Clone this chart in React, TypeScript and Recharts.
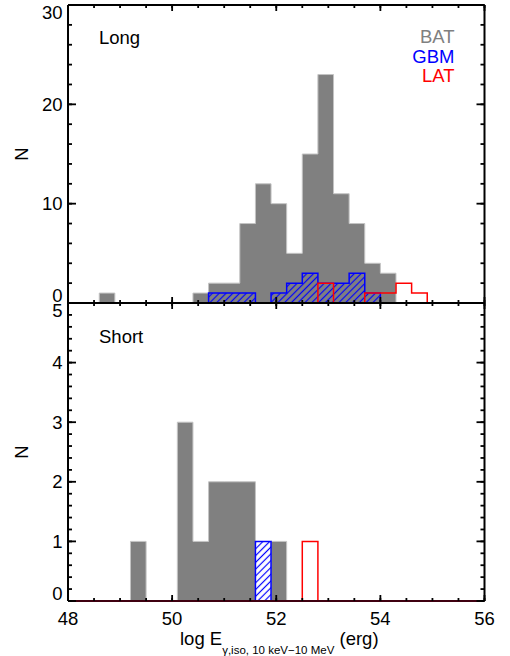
import React from 'react';
import { ComposedChart, Area, Line, XAxis, YAxis } from 'recharts';

const FONT = '"Liberation Sans", Arial, Helvetica, sans-serif';
const FS = 18.5;
const BAT_GRAY = '#808080';
const BAT_EDGE = '#c4c4c4';
const GBM_BLUE = '#0000ff';
const LAT_RED = '#ff0000';

// lower edge of each 0.3 dex bin in log E
const binStarts = [48.0, 48.3, 48.6, 48.9, 49.2, 49.5, 49.8, 50.1, 50.4, 50.7, 51.0, 51.3, 51.6,
  51.9, 52.2, 52.5, 52.8, 53.1, 53.4, 53.7, 54.0, 54.3, 54.6, 54.9, 55.2];

// counts per bin, long GRBs
const longBat = [0, 0, 1, 0, 0, 0, 0, 0, 1, 2, 2, 8, 12, 10, 5, 15, 23, 11, 8, 4, 3, 0, 0, 0, 0];
const longGbm = [0, 0, 0, 0, 0, 0, 0, 0, 0, 1, 1, 1, 0, 1, 2, 3, 2, 2, 3, 1, 0, 0, 0, 0, 0];
const longLat = [0, 0, 0, 0, 0, 0, 0, 0, 0, 0, 0, 0, 0, 0, 0, 0, 2, 0, 0, 1, 1, 2, 1, 0, 0];

// counts per bin, short GRBs
const shortBat = [0, 0, 0, 0, 1, 0, 0, 3, 1, 2, 2, 2, 0, 1, 0, 0, 0, 0, 0, 0, 0, 0, 0, 0, 0];
const shortGbm = [0, 0, 0, 0, 0, 0, 0, 0, 0, 0, 0, 0, 1, 0, 0, 0, 0, 0, 0, 0, 0, 0, 0, 0, 0];
const shortLat = [0, 0, 0, 0, 0, 0, 0, 0, 0, 0, 0, 0, 0, 0, 0, 1, 0, 0, 0, 0, 0, 0, 0, 0, 0];

const xMajor = [48, 50, 52, 54, 56];
const xMinor = [48, 48.5, 49, 49.5, 50, 50.5, 51, 51.5, 52, 52.5, 53, 53.5, 54, 54.5, 55, 55.5, 56];
const longYMajor = [0, 10, 20, 30];
const longYMinor = [0, 2, 4, 6, 8, 10, 12, 14, 16, 18, 20, 22, 24, 26, 28, 30];
const shortYMajor = [0, 1, 2, 3, 4, 5];
const shortYMinor = [0, 0.2, 0.4, 0.6, 0.8, 1, 1.2, 1.4, 1.6, 1.8, 2, 2.2, 2.4, 2.6, 2.8, 3,
  3.2, 3.4, 3.6, 3.8, 4, 4.2, 4.4, 4.6, 4.8, 5];

const W = 510;
const H = 656;
const LEFT = 68;
const RIGHT = 25.5;
const TOP_Y = 5;
const MID_Y = 303;
const BOT_Y = 601;
const THIN = 0.01; // axes need a non-zero size to be drawn

function YTick(props: any) {
  const { x, y, payload, lo, hi } = props;
  const v = payload.value;
  const shift = v === hi ? 7.5 : v === lo ? -7.5 : 0;
  return (
    <text x={x} y={y + shift} dy="0.36em" textAnchor="end" fontSize={FS} fontFamily={FONT} fill="#000">
      {v}
    </text>
  );
}

function XTick(props: any) {
  const { x, y, payload } = props;
  return (
    <text x={x} y={y} dy="0.71em" textAnchor="middle" fontSize={FS} fontFamily={FONT} fill="#000">
      {payload.value}
    </text>
  );
}

// tick marks only, no label
const NoLabel = () => <g />;

type PanelProps = {
  bat: number[];
  gbm: number[];
  lat: number[];
  yMax: number;
  yMajor: number[];
  yMinor: number[];
  top: number;
  bottom: number;
  hatchId: string;
  baseColor: string;
  xLabels: boolean;
};

function Panel({ bat, gbm, lat, yMax, yMajor, yMinor, top, bottom, hatchId, baseColor, xLabels }: PanelProps) {
  const rows = binStarts.map((x, i) => ({ x, bat: bat[i], gbm: gbm[i], lat: lat[i] }));
  const tl = { stroke: '#000', strokeWidth: 1.8 };
  const xCommon = { dataKey: 'x', type: 'number' as const, domain: [48, 56], allowDataOverflow: true, height: THIN, interval: 0 as const };
  const yCommon = { type: 'number' as const, domain: [0, yMax], allowDataOverflow: true, width: THIN, interval: 0 as const };
  return (
    <div style={{ position: 'absolute', left: 0, top: 0 }}>
      <ComposedChart width={W} height={H} data={rows}
        margin={{ top, right: RIGHT, bottom: H - bottom, left: LEFT }}>
        <defs>
          <pattern id={hatchId} patternUnits="userSpaceOnUse" width={4.8} height={4.8} patternTransform="rotate(45)">
            <line x1={2.4} y1={0} x2={2.4} y2={4.8} stroke={GBM_BLUE} strokeWidth={1.2} />
          </pattern>
        </defs>
        <Area xAxisId="xb" yAxisId="yl" type="stepAfter" dataKey="bat" fill={BAT_GRAY} fillOpacity={1}
          stroke={BAT_EDGE} strokeWidth={1} dot={false} activeDot={false} isAnimationActive={false} />
        <Area xAxisId="xb" yAxisId="yl" type="stepAfter" dataKey="gbm" fill={`url(#${hatchId})`} fillOpacity={1}
          stroke={GBM_BLUE} strokeWidth={1.5} dot={false} activeDot={false} isAnimationActive={false} />
        <Line xAxisId="xb" yAxisId="yl" type="stepAfter" dataKey="lat" stroke={LAT_RED} strokeWidth={1.5}
          dot={false} activeDot={false} isAnimationActive={false} />

        <XAxis xAxisId="xb" orientation="bottom" {...xCommon} ticks={xMajor} mirror tickSize={6}
          tick={NoLabel} axisLine={{ stroke: baseColor, strokeWidth: 2 }} tickLine={tl} />
        <XAxis xAxisId="xbm" orientation="bottom" {...xCommon} ticks={xMinor} mirror tickSize={3}
          tick={NoLabel} axisLine={false} tickLine={tl} />
        <XAxis xAxisId="xt" orientation="top" {...xCommon} ticks={xMajor} mirror tickSize={6}
          tick={NoLabel} axisLine={{ stroke: '#000', strokeWidth: 2 }} tickLine={tl} />
        <XAxis xAxisId="xtm" orientation="top" {...xCommon} ticks={xMinor} mirror tickSize={3}
          tick={NoLabel} axisLine={false} tickLine={tl} />
        {xLabels && (
          <XAxis xAxisId="xlab" orientation="bottom" {...xCommon} ticks={xMajor} tickSize={0} tickMargin={11}
            tick={(p: any) => <XTick {...p} />} axisLine={false} tickLine={false} />
        )}

        <YAxis yAxisId="yl" orientation="left" {...yCommon} ticks={yMajor} mirror tickSize={8}
          tick={NoLabel} axisLine={{ stroke: '#000', strokeWidth: 2 }} tickLine={tl} />
        <YAxis yAxisId="ylm" orientation="left" {...yCommon} ticks={yMinor} mirror tickSize={4}
          tick={NoLabel} axisLine={false} tickLine={tl} />
        <YAxis yAxisId="yr" orientation="right" {...yCommon} ticks={yMajor} mirror tickSize={8}
          tick={NoLabel} axisLine={{ stroke: '#000', strokeWidth: 2 }} tickLine={tl} />
        <YAxis yAxisId="yrm" orientation="right" {...yCommon} ticks={yMinor} mirror tickSize={4}
          tick={NoLabel} axisLine={false} tickLine={tl} />
        <YAxis yAxisId="ylab" orientation="left" {...yCommon} ticks={yMajor} tickSize={0} tickMargin={5.5}
          tick={(p: any) => <YTick {...p} lo={0} hi={yMax} />} axisLine={false} tickLine={false} />
      </ComposedChart>
    </div>
  );
}

export default function App() {
  const txt = { fontFamily: FONT, fontSize: FS };
  return (
    <div style={{ position: 'relative', width: W, height: H, background: '#fff' }}>
      <style>{'body{margin:0}'}</style>
      <Panel bat={longBat} gbm={longGbm} lat={longLat} yMax={30} yMajor={longYMajor} yMinor={longYMinor}
        top={TOP_Y} bottom={MID_Y} hatchId="hatchLong" baseColor="#000" xLabels={false} />
      <Panel bat={shortBat} gbm={shortGbm} lat={shortLat} yMax={5} yMajor={shortYMajor} yMinor={shortYMinor}
        top={MID_Y} bottom={BOT_Y} hatchId="hatchShort" baseColor="#3f0010" xLabels={true} />
      <svg width={W} height={H} style={{ position: 'absolute', left: 0, top: 0, pointerEvents: 'none' }}>
        <text x={99} y={44} {...txt} fill="#000">Long</text>
        <text x={99} y={342.7} {...txt} fill="#000">Short</text>
        <text x={454.5} y={43.3} {...txt} textAnchor="end" fill={BAT_GRAY}>BAT</text>
        <text x={454.5} y={62.7} {...txt} textAnchor="end" fill={GBM_BLUE}>GBM</text>
        <text x={454.5} y={81.7} {...txt} textAnchor="end" fill={LAT_RED}>LAT</text>
        <text x={21} y={154} dy="0.36em" {...txt} textAnchor="middle" transform="rotate(-90 21 154)">N</text>
        <text x={21} y={452} dy="0.36em" {...txt} textAnchor="middle" transform="rotate(-90 21 452)">N</text>
        <text x={180} y={645} {...txt} style={{ whiteSpace: 'pre' }}>
          log E
          <tspan fontSize={11.5} dy={9}>{'γ,iso, 10 keV−10 MeV'}</tspan>
          <tspan fontSize={FS} dy={-9}>{' (erg)'}</tspan>
        </text>
      </svg>
    </div>
  );
}
